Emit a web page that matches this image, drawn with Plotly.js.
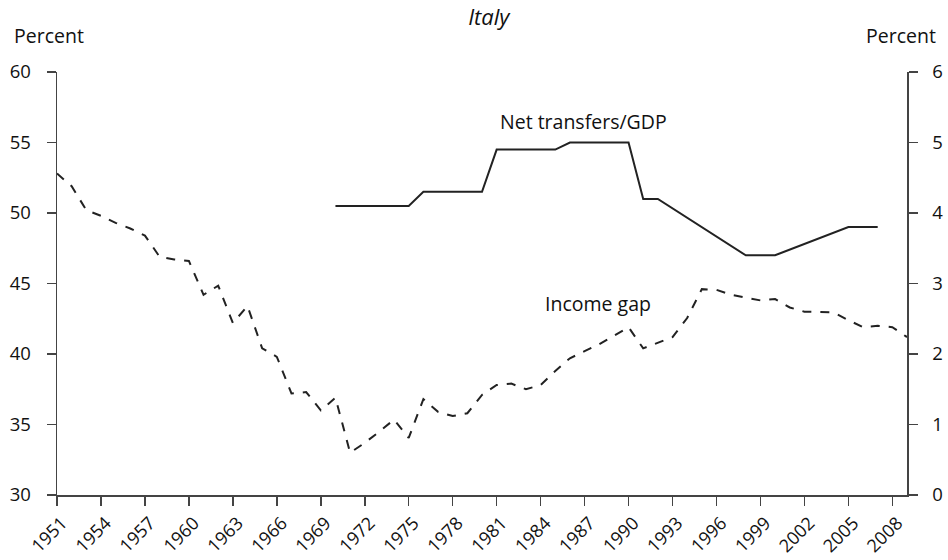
<!DOCTYPE html>
<html>
<head>
<meta charset="utf-8">
<script src="https://cdn.plot.ly/plotly-3.0.1.min.js"></script>
<style>html,body{margin:0;padding:0;background:#fff}#chart{width:948px;height:560px}</style>
</head>
<body>
<div id="chart"></div>
<script>
const gapYears = [1951,1952,1953,1954,1955,1956,1957,1958,1959,1960,1961,1962,1963,1964,1965,1966,1967,1968,1969,1970,1971,1972,1973,1974,1975,1976,1977,1978,1979,1980,1981,1982,1983,1984,1985,1986,1987,1988,1989,1990,1991,1992,1993,1994,1995,1996,1997,1998,1999,2000,2001,2002,2003,2004,2005,2006,2007,2008,2009];
const incomeGap = [52.8,51.9,50.2,49.8,49.3,48.9,48.4,46.9,46.7,46.6,44.2,44.85,42.2,43.4,40.4,39.8,37.2,37.3,36.0,36.9,33.0,33.7,34.5,35.35,34.05,36.8,35.9,35.6,35.8,37.1,37.8,37.9,37.5,37.8,38.8,39.7,40.2,40.7,41.3,41.9,40.4,40.8,41.2,42.55,44.6,44.55,44.2,44.0,43.8,43.9,43.3,43.0,43.0,42.95,42.4,41.9,42.0,41.9,41.2];
const transferYears = [1970,1975,1976,1980,1981,1985,1986,1990,1991,1992,1998,2000,2005,2007];
const netTransfers = [4.1,4.1,4.3,4.3,4.9,4.9,5.0,5.0,4.2,4.2,3.4,3.4,3.8,3.8];
const tickYears = [1951,1954,1957,1960,1963,1966,1969,1972,1975,1978,1981,1984,1987,1990,1993,1996,1999,2002,2005,2008];

const FONT = 'Open Sans, Noto Sans, sans-serif';
const traces = [
  {x: gapYears, y: incomeGap, type: 'scatter', mode: 'lines', yaxis: 'y',
   line: {color: '#222', width: 2, dash: 'dash'}, hoverinfo: 'skip'},
  {x: transferYears, y: netTransfers, type: 'scatter', mode: 'lines', yaxis: 'y2',
   line: {color: '#222', width: 2}, hoverinfo: 'skip'}
];
const axisCommon = {showgrid: false, zeroline: false, showline: true, linecolor: '#444', linewidth: 1.5,
  ticks: 'outside', ticklen: 9, tickcolor: '#444', tickwidth: 1.5,
  tickfont: {family: FONT, size: 18.5, color: '#111'}};
const layout = {
  width: 948, height: 560,
  margin: {l: 57, r: 41, t: 72, b: 65},
  paper_bgcolor: '#fff', plot_bgcolor: '#fff',
  showlegend: false,
  font: {family: FONT, color: '#111'},
  title: {text: 'Italy', x: 0.508, xref: 'paper', y: 0.97, yanchor: 'middle',
    font: {family: FONT, size: 22, style: 'italic', color: '#111'}},
  xaxis: Object.assign({}, axisCommon, {range: [1951, 2009], tickvals: tickYears,
    ticktext: tickYears.map(String), tickangle: -45, ticklabelshift: 5, ticklabelstandoff: 0,
    tickfont: {family: FONT, size: 18, color: '#111'}}),
  yaxis: Object.assign({}, axisCommon, {range: [30, 60], tickvals: [30,35,40,45,50,55,60],
    ticklabelstandoff: 12}),
  yaxis2: Object.assign({}, axisCommon, {range: [0, 6], tickvals: [0,1,2,3,4,5,6],
    overlaying: 'y', side: 'right', ticklabelstandoff: 11}),
  annotations: [
    {text: 'Percent', xref: 'paper', yref: 'paper', x: -0.053, y: 1.086, xanchor: 'left', yanchor: 'middle',
     showarrow: false, font: {family: FONT, size: 19.5, color: '#111'}},
    {text: 'Percent', xref: 'paper', yref: 'paper', x: 1.0365, y: 1.086, xanchor: 'right', yanchor: 'middle',
     showarrow: false, font: {family: FONT, size: 19.5, color: '#111'}},
    {text: 'Net transfers/GDP', xref: 'x', yref: 'y', x: 1986.9, y: 56.5, xanchor: 'center', yanchor: 'middle',
     showarrow: false, font: {family: FONT, size: 19.5, color: '#111'}},
    {text: 'Income gap', xref: 'x', yref: 'y', x: 1987.9, y: 43.6, xanchor: 'center', yanchor: 'middle',
     showarrow: false, font: {family: FONT, size: 19.5, color: '#111'}}
  ]
};
Plotly.newPlot('chart', traces, layout, {staticPlot: true, displayModeBar: false});
</script>
</body>
</html>
